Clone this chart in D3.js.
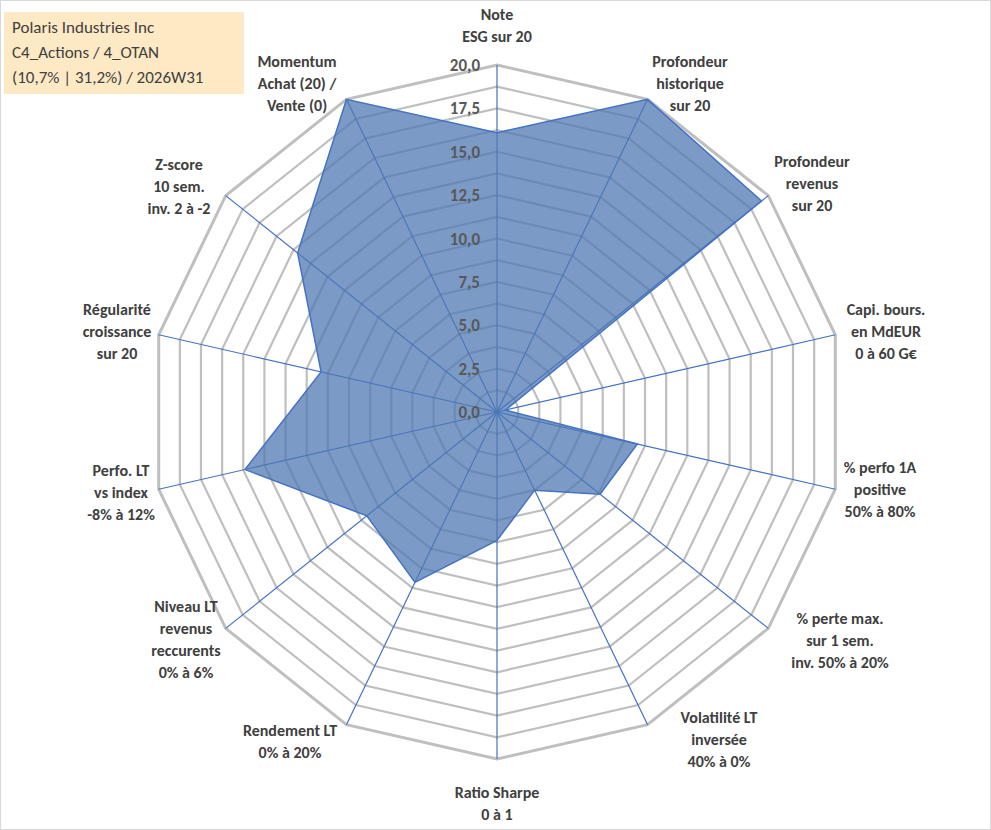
<!DOCTYPE html>
<html><head><meta charset="utf-8">
<script src="https://cdn.jsdelivr.net/npm/d3@7"></script>
<style>body{margin:0;background:#fff;font-family:Calibri,"Liberation Sans",Arial,sans-serif}</style>
</head><body><svg id="c" width="991" height="830"></svg>
<script>
const categories = [
 ["Note","ESG sur 20"],
 ["Profondeur","historique","sur 20"],
 ["Profondeur","revenus","sur 20"],
 ["Capi. bours.","en MdEUR","0 à 60 G€"],
 ["% perfo 1A","positive","50% à 80%"],
 ["% perte max.","sur 1 sem.","inv. 50% à 20%"],
 ["Volatilité LT","inversée","40% à 0%"],
 ["Ratio Sharpe","0 à 1"],
 ["Rendement LT","0% à 20%"],
 ["Niveau LT","revenus","reccurents","0% à 6%"],
 ["Perfo. LT","vs index","-8% à 12%"],
 ["Régularité","croissance","sur 20"],
 ["Z-score","10 sem.","inv. 2 à -2"],
 ["Momentum","Achat (20) /","Vente (0)"]
];
const values = [16.1, 20, 19.5, 0.5, 8.3, 7.6, 5.0, 7.4, 10.9, 9.6, 14.9, 10.4, 14.7, 20];
const tickValues = [0,2.5,5,7.5,10,12.5,15,17.5,20];
const titleLines = ["Polaris Industries Inc","C4_Actions / 4_OTAN","(10,7% | 31,2%) / 2026W31"];

const svg = d3.select("#c");
svg.append("rect").attr("x",0.5).attr("y",0.5).attr("width",990).attr("height",829).attr("fill","#fff").attr("stroke","#d9d9d9");
const cx=497, cy=412, R=347, n=categories.length;
const r = d3.scaleLinear().domain([0,20]).range([0,R]);
const ang = i => i*2*Math.PI/n;
const pt = (i,v)=>[cx+r(v)*Math.sin(ang(i)), cy-r(v)*Math.cos(ang(i))];
const ringVals = d3.range(1.25,20.01,1.25);
ringVals.forEach(v=>{
  svg.append("polygon").attr("points",d3.range(n).map(i=>pt(i,v).join(",")).join(" "))
   .attr("fill","none").attr("stroke","#bfbfbf").attr("stroke-width",v===20?3:2.2);
});
d3.range(n).forEach(i=>{
  const p=pt(i,20);
  svg.append("line").attr("x1",cx).attr("y1",cy).attr("x2",p[0]).attr("y2",p[1]).attr("stroke","#4472c4").attr("stroke-width",1.2);
});
svg.append("polygon").attr("points",values.map((v,i)=>pt(i,v).join(",")).join(" "))
  .attr("fill","rgba(79,120,178,0.75)").attr("stroke","#4472c4").attr("stroke-width",1.5);
tickValues.forEach(v=>{
  svg.append("text").attr("x",cx-17).attr("y",cy-r(v)+6).attr("text-anchor","end")
   .attr("font-size",17).attr("font-weight","bold").attr("fill","#595959").text(d3.format(".1f")(v).replace(".",","));
});
categories.forEach((lines,i)=>{
  const a=ang(i), s=Math.sin(a), c=-Math.cos(a);
  const p=pt(i,20);
  let x=p[0], y=p[1], anchor="middle";
  const lh=22, h=lines.length*lh;
  if (Math.abs(s)<0.1){ y = c<0 ? y-h+10 : y+22; }
  else {
    anchor = s>0?"start":"end";
    x += s>0?-50:50; 
    if (c<-0.5) { y = y - h - 2 + 14; x = p[0] + (s>0?-30:30); anchor = s>0? "start":"end"; }
    else y = y + 26;
  }
  // custom placements per index for closeness to reference
  const pos = {
    0:[497,20,"middle"],1:[690,67,"middle"],2:[812,167,"middle"],3:[886,315,"middle"],
    4:[880,473,"middle"],5:[840,624,"middle"],6:[719,723,"middle"],7:[497,798,"middle"],
    8:[290,736,"middle"],9:[186,612,"middle"],10:[121,476,"middle"],11:[117,315,"middle"],
    12:[179,170,"middle"],13:[297,67,"middle"]
  }[i];
  const t=svg.append("text").attr("text-anchor",pos[2]).attr("font-size",16).attr("font-weight","bold").attr("fill","#404040");
  lines.forEach((l,k)=>t.append("tspan").attr("x",pos[0]).attr("y",pos[1]+k*22).text(l));
});
svg.append("rect").attr("x",4).attr("y",12).attr("width",240).attr("height",82).attr("fill","#fde9c4");
titleLines.forEach((l,k)=>svg.append("text").attr("x",12).attr("y",33+k*25).attr("font-size",17).attr("fill","#404040").text(l));
</script></body></html>
